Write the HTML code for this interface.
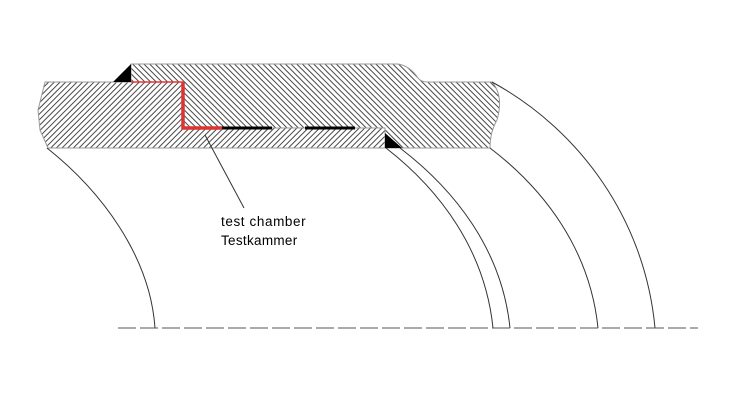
<!DOCTYPE html>
<html><head><meta charset="utf-8"><style>
html,body{margin:0;padding:0;background:#fff;width:744px;height:407px;overflow:hidden}
svg{display:block}
</style></head><body>
<svg width="744" height="407" viewBox="0 0 744 407" xmlns="http://www.w3.org/2000/svg">
<defs>
<pattern id="hb" width="4" height="4" patternUnits="userSpaceOnUse" patternTransform="rotate(45)">
<line x1="0.5" y1="0" x2="0.5" y2="4" stroke="#333" stroke-width="0.9"/></pattern>
<pattern id="hf" width="4" height="4" patternUnits="userSpaceOnUse" patternTransform="rotate(-45)">
<line x1="0.5" y1="0" x2="0.5" y2="4" stroke="#333" stroke-width="0.9"/></pattern>
</defs>
<path d="M45,82 L183,82 L183,128 L385,128 L385,148 L48,148 L40,130 L38,110 Z" fill="url(#hb)" stroke="#999" stroke-width="1"/>
<path d="M131,64 L398,64 Q410,66 418,78 Q421,82 428,82 L492,82 Q504,96 497,120 Q490,132 490,148 L385,148 L385,128 L183,128 L183,82 L131,82 Z" fill="url(#hf)" stroke="#999" stroke-width="1"/>
<polygon points="131,64 131,82 113,82" fill="#000"/>
<polygon points="385,133 385,148 402,148" fill="#000"/>
<path d="M131,82 L183,82" stroke="#e33" stroke-width="1.5"/>
<path d="M183,82 L183,128 L222,128" stroke="#d33" stroke-width="3.5" fill="none"/>
<path d="M222,128 L272,128" stroke="#000" stroke-width="3"/>
<path d="M305,128 L355,128" stroke="#000" stroke-width="3"/>
<g fill="none" stroke="#333" stroke-width="1">
<path d="M47,148 C100,190 150,255 155,328"/>
<path d="M386,148 C440,190 485,250 493,328"/>
<path d="M400,148 C455,190 502,250 510,328"/>
<path d="M490,148 C545,190 590,250 598,328"/>
<path d="M492,82 C580,130 645,220 655,328"/>
<line x1="244" y1="208" x2="205" y2="135"/>
</g>
<line x1="118" y1="328" x2="698" y2="328" stroke="#555" stroke-width="1" stroke-dasharray="18,4"/>
<text x="221" y="226" font-family="Liberation Sans, sans-serif" font-size="13.5" letter-spacing="0.6" fill="#000">test chamber</text>
<text x="221" y="245" font-family="Liberation Sans, sans-serif" font-size="13.5" letter-spacing="0.3" fill="#000">Testkammer</text>
</svg>
</body></html>
